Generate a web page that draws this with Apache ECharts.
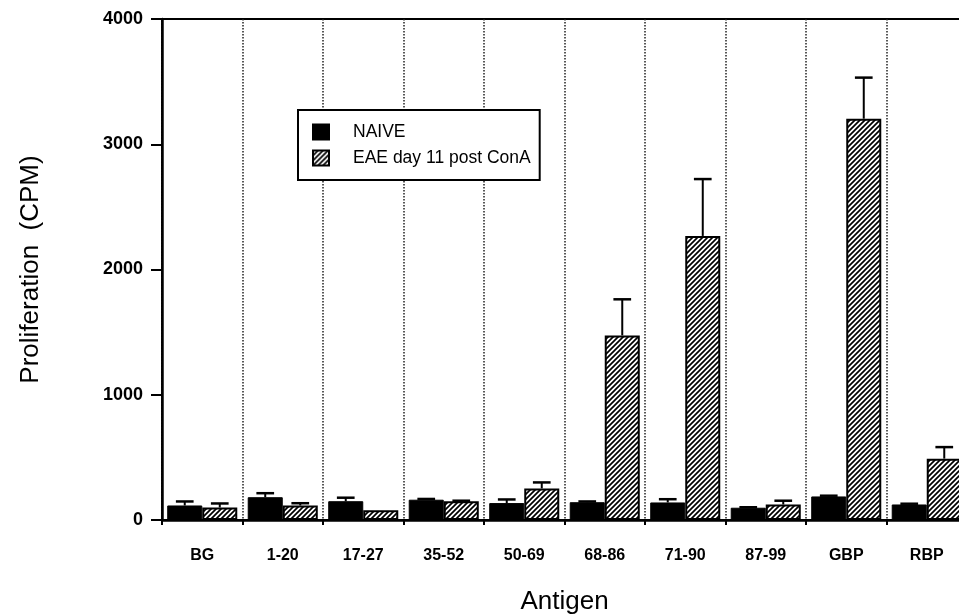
<!DOCTYPE html>
<html>
<head>
<meta charset="utf-8">
<script src="https://cdn.jsdelivr.net/npm/echarts@6/dist/echarts.min.js"></script>
<style>html,body{margin:0;padding:0;background:#fff;}#c{width:959px;height:616px;}</style>
</head>
<body>
<div id="c"></div>
<script>
const categories = ['BG','1-20','17-27','35-52','50-69','68-86','71-90','87-99','GBP','RBP'];
const naive    = [116, 182, 150, 162, 135, 142, 140, 98, 188, 124];
const naiveErr = [32, 32, 28, 6, 29, 6, 26, 4, 6, 6];
const eae      = [100, 116, 78, 150, 252, 1474, 2268, 124, 3204, 490];
const eaeErr   = [32, 18, 0, 4, 48, 288, 454, 30, 328, 92];
const yTicks   = [0, 1000, 2000, 3000, 4000];

const FONT = "'Liberation Sans', Arial, Helvetica, sans-serif";
const BAR_FRAC = 0.435;

function hatch() {
  const s = 5;
  const c = document.createElement('canvas');
  c.width = s; c.height = s;
  const g = c.getContext('2d');
  g.fillStyle = '#fff'; g.fillRect(0,0,s,s);
  g.strokeStyle = '#000'; g.lineWidth = 1.7;
  g.beginPath();
  g.moveTo(-1, s+1); g.lineTo(s+1, -1);
  g.moveTo(-1, 1); g.lineTo(1, -1);
  g.moveTo(s-1, s+1); g.lineTo(s+1, s-1);
  g.stroke();
  return c;
}
const hatchFill = { image: hatch(), repeat: 'repeat' };

function errSeries(vals, errs, side, name) {
  return {
    type: 'custom',
    name: name + '_err',
    z: 3,
    silent: true,
    data: vals.map((v, i) => [i, v, errs[i]]),
    renderItem: function (params, api) {
      const i = api.value(0), v = api.value(1), e = api.value(2);
      if (!e) return null;
      const band = api.size([1, 0])[0];
      const off = side * band * BAR_FRAC / 2;
      const p0 = api.coord([i, v]);
      const p1 = api.coord([i, v + e]);
      const x = p0[0] + off;
      const cap = band * 0.11;
      return {
        type: 'group',
        children: [
          { type: 'line', shape: { x1: x, y1: p0[1], x2: x, y2: p1[1] }, style: { stroke: '#000', lineWidth: 2 } },
          { type: 'line', shape: { x1: x - cap, y1: p1[1], x2: x + cap, y2: p1[1] }, style: { stroke: '#000', lineWidth: 2.5 } }
        ]
      };
    }
  };
}

const chart = echarts.init(document.getElementById('c'), null, { renderer: 'canvas' });
chart.setOption({
  animation: false,
  backgroundColor: '#fff',
  textStyle: { fontFamily: FONT },
  grid: { left: 162, width: 805, top: 19, height: 501, outerBoundsMode: 'none', containLabel: false, show: true, borderColor: '#000', borderWidth: 2, backgroundColor: 'transparent' },
  legend: {
    left: 298, top: 110,
    orient: 'vertical',
    data: [
      { name: 'NAIVE', icon: 'rect' },
      { name: 'EAE day 11 post ConA', icon: 'rect' }
    ],
    itemWidth: 16, itemHeight: 15, itemGap: 6,
    padding: [12, 9, 12, 14],
    borderColor: '#000', borderWidth: 2,
    backgroundColor: '#fff',
    z: 10,
    textStyle: { fontFamily: FONT, fontSize: 17.5, lineHeight: 20, color: '#000', padding: [0, 0, 0, 19] }
  },
  xAxis: {
    type: 'category',
    data: categories,
    name: 'Antigen',
    nameLocation: 'middle',
    nameGap: 69,
    nameTextStyle: { fontFamily: FONT, fontSize: 26, color: '#000' },
    axisLine: { lineStyle: { color: '#000', width: 2.5 } },
    axisTick: { show: true, interval: 0, length: 5, lineStyle: { color: '#000', width: 2 } },
    axisLabel: { interval: 0, margin: 28, fontFamily: FONT, fontSize: 16, fontWeight: 'bold', color: '#000' },
    splitLine: { show: true, interval: 0, lineStyle: { color: '#222', width: 1.5, type: 'dotted' } }
  },
  yAxis: {
    type: 'value',
    min: yTicks[0], max: yTicks[yTicks.length - 1], interval: 1000,
    name: 'Proliferation  (CPM)',
    nameLocation: 'middle',
    nameGap: 118,
    nameTextStyle: { fontFamily: FONT, fontSize: 26, color: '#000' },
    axisLine: { show: true, lineStyle: { color: '#000', width: 2.5 } },
    axisTick: { show: true, length: 11, lineStyle: { color: '#000', width: 2 } },
    axisLabel: { margin: 19, fontFamily: FONT, fontSize: 18, fontWeight: 'bold', color: '#000', formatter: v => String(v) },
    splitLine: { show: false }
  },
  series: [
    {
      name: 'NAIVE', type: 'bar', data: naive,
      barWidth: (BAR_FRAC * 100) + '%', barGap: '0%',
      itemStyle: { color: '#000', borderColor: '#000', borderWidth: 1 }
    },
    {
      name: 'EAE day 11 post ConA', type: 'bar', data: eae,
      barWidth: (BAR_FRAC * 100) + '%', barGap: '0%',
      itemStyle: { color: hatchFill, borderColor: '#000', borderWidth: 2 }
    },
    errSeries(naive, naiveErr, -1, 'NAIVE'),
    errSeries(eae, eaeErr, 1, 'EAE')
  ]
});
</script>
</body>
</html>
